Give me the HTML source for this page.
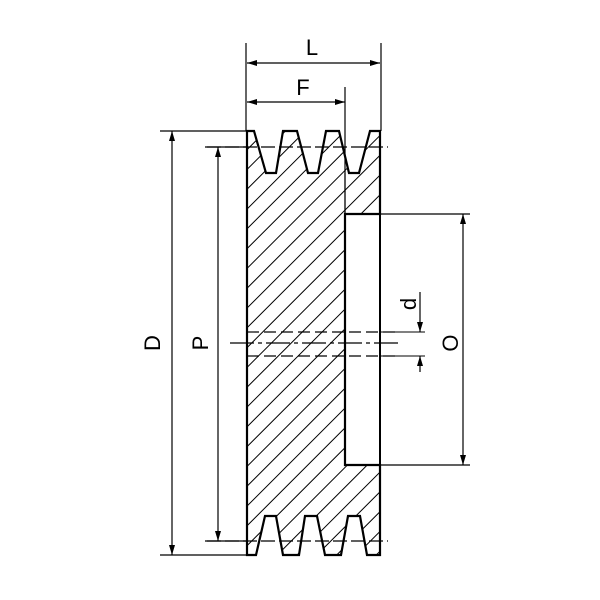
<!DOCTYPE html>
<html><head><meta charset="utf-8"><style>
html,body{margin:0;padding:0;background:#fff}
svg{display:block}
text{font-family:"Liberation Sans",sans-serif;font-size:22px;fill:#000}
</style></head><body>
<svg width="600" height="600" viewBox="0 0 600 600" xmlns="http://www.w3.org/2000/svg">
<defs>
<marker id="a" viewBox="0 0 10 6" refX="10" refY="3" markerWidth="10" markerHeight="6" orient="auto-start-reverse" markerUnits="userSpaceOnUse">
<path d="M0,0 L10,3 L0,6 z" fill="#000"/></marker>
<clipPath id="body">
<path d="M247,131 L254,131 L266,173 L276,173 L283,131 L297,131 L308,173 L318,173 L326,131 L339,131 L349,173 L359,173 L370,131 L380,131 L380,214 L345,214 L345,465 L380,465 L380,555 L367,555 L360,516 L348,516 L341,555 L325,555 L317,516 L305,516 L299,555 L283,555 L276,516 L265,516 L256,555 L247,555 Z"/>
</clipPath>
<pattern id="h" width="14" height="14" patternUnits="userSpaceOnUse" patternTransform="rotate(45)">
<line x1="0" y1="0" x2="0" y2="14" stroke="#000" stroke-width="2"/>
</pattern>
</defs>
<g fill="none" stroke="#000">
<rect x="240" y="125" width="150" height="440" fill="url(#h)" clip-path="url(#body)" stroke="none"/>
<path stroke-width="2.2" d="M247,131 L254,131 L266,173 L276,173 L283,131 L297,131 L308,173 L318,173 L326,131 L339,131 L349,173 L359,173 L370,131 L380,131 L380,214 L345,214 L345,465 L380,465 L380,555 L367,555 L360,516 L348,516 L341,555 L325,555 L317,516 L305,516 L299,555 L283,555 L276,516 L265,516 L256,555 L247,555 Z"/>
<line x1="345" y1="173" x2="345" y2="214" stroke-width="1.3"/>
<line x1="380" y1="214" x2="380" y2="465" stroke-width="2"/>
<line x1="207" y1="147" x2="388" y2="147" stroke-width="1.2" stroke-dasharray="14 4"/>
<line x1="207" y1="541" x2="388" y2="541" stroke-width="1.2" stroke-dasharray="14 4"/>
<line x1="247" y1="332" x2="400" y2="332" stroke-width="1.2" stroke-dasharray="12 5"/>
<line x1="247" y1="356" x2="400" y2="356" stroke-width="1.2" stroke-dasharray="12 5"/>
<line x1="230" y1="343" x2="398" y2="343" stroke-width="1.2" stroke-dasharray="24 4 4 4"/>
<line x1="380" y1="332" x2="425" y2="332" stroke-width="1"/>
<line x1="380" y1="356" x2="425" y2="356" stroke-width="1"/>
<g stroke-width="1.2">
<line x1="246" y1="43" x2="246" y2="131"/>
<line x1="381" y1="43" x2="381" y2="131"/>
<line x1="345" y1="87" x2="345" y2="173"/>
<line x1="160" y1="131" x2="247" y2="131"/>
<line x1="160" y1="555" x2="247" y2="555"/>
<line x1="205" y1="147" x2="247" y2="147"/>
<line x1="205" y1="541" x2="247" y2="541"/>
<line x1="380" y1="214" x2="470" y2="214"/>
<line x1="380" y1="465" x2="470" y2="465"/>
</g>
<g stroke-width="1.2">
<line x1="247" y1="63" x2="380" y2="63" marker-start="url(#a)" marker-end="url(#a)"/>
<line x1="247" y1="102" x2="345" y2="102" marker-start="url(#a)" marker-end="url(#a)"/>
<line x1="172" y1="131" x2="172" y2="555" marker-start="url(#a)" marker-end="url(#a)"/>
<line x1="218" y1="147" x2="218" y2="541" marker-start="url(#a)" marker-end="url(#a)"/>
<line x1="463" y1="214" x2="463" y2="465" marker-start="url(#a)" marker-end="url(#a)"/>
<line x1="420" y1="292" x2="420" y2="332" marker-end="url(#a)"/>
<line x1="420" y1="372" x2="420" y2="356" marker-end="url(#a)"/>
</g>
</g>
<text x="312" y="55" text-anchor="middle">L</text>
<text x="303" y="95" text-anchor="middle">F</text>
<text transform="translate(160,343) rotate(-90)" text-anchor="middle">D</text>
<text transform="translate(208,343) rotate(-90)" text-anchor="middle">P</text>
<text transform="translate(458,343) rotate(-90)" text-anchor="middle">O</text>
<text transform="translate(416,304) rotate(-90)" text-anchor="middle">d</text>
</svg>
</body></html>
